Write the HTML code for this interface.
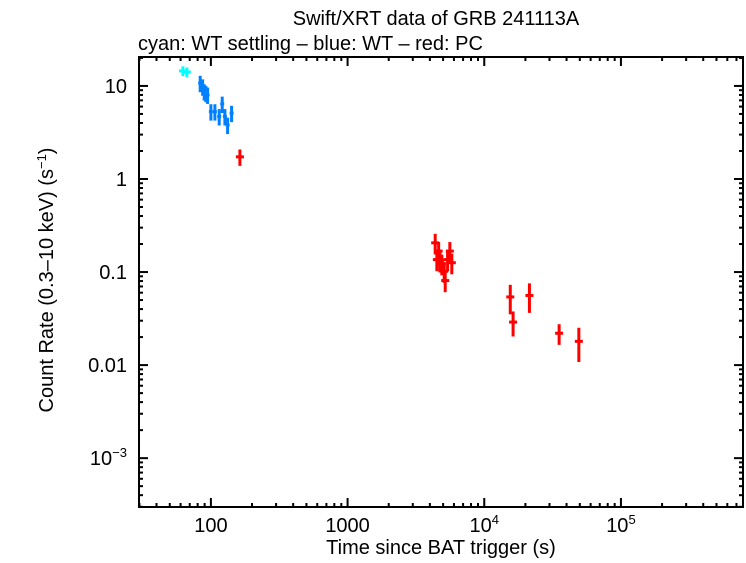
<!DOCTYPE html>
<html><head><meta charset="utf-8"><style>
body{margin:0;background:#fff}
svg text{font-family:"Liberation Sans",Arial,sans-serif;fill:#000}
</style></head><body>
<svg id="chart" width="746" height="558" xmlns="http://www.w3.org/2000/svg">
<text x="436" y="25" font-size="20" text-anchor="middle">Swift/XRT data of GRB 241113A</text>
<text x="138" y="50" font-size="20">cyan: WT settling – blue: WT – red: PC</text>
<text x="441" y="554" font-size="20" text-anchor="middle">Time since BAT trigger (s)</text>
<text transform="translate(53,280) rotate(-90)" font-size="20" text-anchor="middle">Count Rate (0.3–10 keV) (s<tspan dy="-7" font-size="13">−1</tspan><tspan dy="7">)</tspan></text>
<g id="ticks"></g>
<g id="marks"></g>
<rect x="139" y="57" width="604" height="450" fill="none" stroke="#000" stroke-width="2"/>
</svg>
<script>
const cyanX=[62.4,66.7];
const cyanY=[14.5,14.1];
const blueX=[83.5,87,89.3,91.9,94.6,100,107,115,121,126.6,132.5,141.7];
const blueY=[10.7,9.8,8.7,8.35,8.0,5.3,5.3,4.7,6.4,4.7,3.8,5.1];
const redX=[163,4375,4500,4636,4734,4894,5090,5180,5390,5600,5790,15500,16250,21400,35300,49200];
const redY=[1.73,0.206,0.136,0.168,0.132,0.123,0.102,0.081,0.136,0.168,0.126,0.054,0.029,0.056,0.022,0.018];
const redErr=[0.2,0.25,0.25,0.25,0.25,0.25,0.25,0.25,0.25,0.25,0.25,0.35,0.3,0.35,0.25,0.4];
const xTickVals=[100,1000,10000,100000];
const xTickLabels=["100","1000","10<4>","10<5>"];
const yTickVals=[10,1,0.1,0.01,0.001];
const yTickLabels=["10","1","0.1","0.01","10<−3>"];
const X0=139,X1=743,Y0=57,Y1=507;
const lxMin=1.474,lxMax=5.893,lyMin=-3.525,lyMax=1.311;
const sx=v=>X0+(Math.log10(v)-lxMin)/(lxMax-lxMin)*(X1-X0);
const sy=v=>Y1-(Math.log10(v)-lyMin)/(lyMax-lyMin)*(Y1-Y0);
const NS="http://www.w3.org/2000/svg";
function mk(tag,attrs,parent){const e=document.createElementNS(NS,tag);for(const k in attrs)e.setAttribute(k,attrs[k]);parent.appendChild(e);return e;}
const tg=document.getElementById('ticks'),mg=document.getElementById('marks');
function label(parent,txt,x,y,anchor){const t=mk('text',{x:x,y:y,'font-size':20,'text-anchor':anchor},parent);
 const m=txt.match(/^(.*)<(.*)>$/);if(m){t.appendChild(document.createTextNode(m[1]));const s=mk('tspan',{dy:-8,'font-size':13},t);s.textContent=m[2];}else t.textContent=txt;return t;}
for(let d=1;d<=6;d++)for(let k=1;k<10;k++){const v=k*Math.pow(10,d);const lv=Math.log10(v);if(lv<lxMin||lv>lxMax)continue;
 const x=sx(v),L=k===1?9:4;
 const a=mk('line',{x1:x,x2:x,y1:Y1,y2:Y1-L,stroke:'#000','stroke-width':2},tg);
 
 const b=mk('line',{x1:x,x2:x,y1:Y0,y2:Y0+L,stroke:'#000','stroke-width':2},tg);
 }
xTickVals.forEach((v,i)=>{const t=label(tg,xTickLabels[i],sx(v),532,'middle');
 });
for(let d=-4;d<=1;d++)for(let k=1;k<10;k++){const v=k*Math.pow(10,d);const lv=Math.log10(v);if(lv<lyMin||lv>lyMax)continue;
 const y=sy(v),L=k===1?9:4;
 const a=mk('line',{x1:X0,x2:X0+L,y1:y,y2:y,stroke:'#000','stroke-width':2},tg);
 
 const b=mk('line',{x1:X1,x2:X1-L,y1:y,y2:y,stroke:'#000','stroke-width':2},tg);
 }
yTickVals.forEach((v,i)=>{const t=label(tg,yTickLabels[i],127,sy(v)+7,'end');
 });
function pts(xs,ys,errs,color,name,xe){xs.forEach((v,i)=>{const x=sx(v),y=sy(ys[i]);const e=errs[i];
 const g=mk('g',{stroke:color,'stroke-width':3},mg);
 
 mk('line',{x1:x,x2:x,y1:sy(ys[i]*(1+e)),y2:sy(ys[i]*(1-e))},g);
 mk('line',{x1:x-xe,x2:x+xe,y1:y,y2:y},g);});}
pts(cyanX,cyanY,cyanX.map(()=>0.12),'#00ffff','cyan-point',4);
pts(blueX,blueY,blueX.map(()=>0.2),'#0080ff','blue-point',2);
pts(redX,redY,redErr,'#ff0000','red-point',4);
</script>
</body></html>
